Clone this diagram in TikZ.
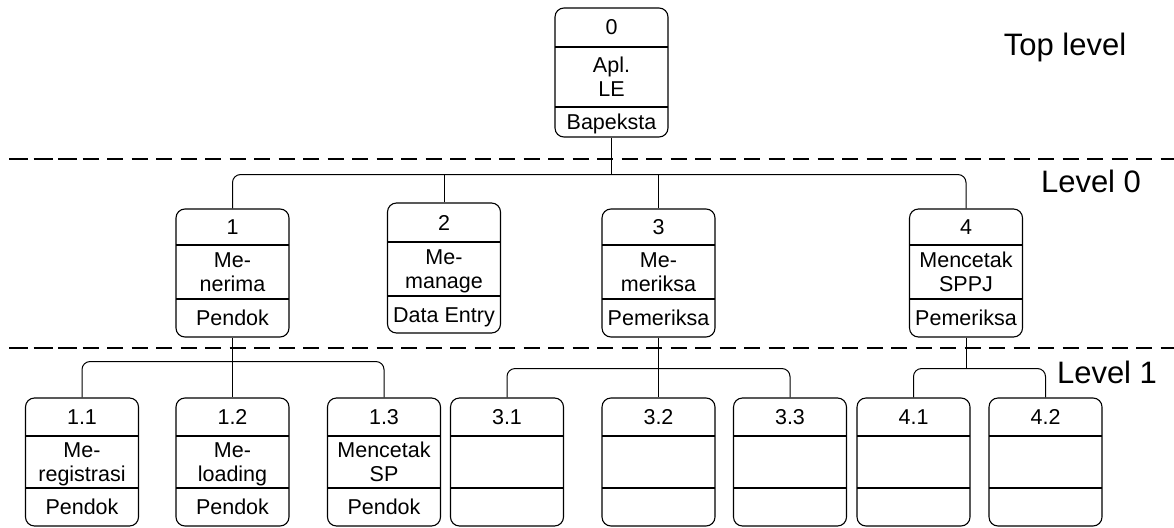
\documentclass[tikz,border=0pt]{standalone}
\usepackage{fontspec}
\setmainfont{Liberation Sans}
\tikzset{
  pbox/.style={draw, rounded corners=9pt, minimum width=113pt, inner sep=0pt, line width=1.1pt},
  pline/.style={line width=1.1pt},
  ptext/.style={font=\fontsize{21.5}{24}\selectfont, anchor=base, inner sep=0pt},
  conn/.style={line width=1pt, rounded corners=8pt},
  dline/.style={line width=2pt, dash pattern=on 16pt off 8.5pt},
  lvl/.style={font=\fontsize{31}{36}\selectfont, anchor=base, inner sep=0pt}
}
\def\getys#1/#2/#3/#4\relax{\def\ya{#1}\def\yb{#2}\def\yc{#3}\def\yd{#4}}
% #1 name, #2 cx, #3 ytop/line1/line2/ybot, #4 head, #5 mid line A, #6 mid line B, #7 foot
\newcommand{\procbox}[7]{%
  \getys#3\relax
  \node[pbox, minimum height={\yd-\ya}] (#1) at (#2,{(\ya+\yd)/2}) {};
  \draw[pline] ({#2-56.5},\yb) -- ({#2+56.5},\yb);
  \draw[pline] ({#2-56.5},\yc) -- ({#2+56.5},\yc);
  \node[ptext] (#1-h) at (#2,{(\ya+\yb)/2+7.5}) {#4};
  \node[ptext] (#1-ma) at (#2,{(\yb+\yc)/2-4.5}) {#5};
  \node[ptext] (#1-mb) at (#2,{(\yb+\yc)/2+19.5}) {#6};
  \node[ptext] (#1-f) at (#2,{(\yc+\yd)/2+7.5}) {#7};
}
\begin{document}
\begin{tikzpicture}[x=1pt,y=-1pt]
\useasboundingbox (0,0) rectangle (1174,527);
% dashed level separators
\draw[dline] (9,159) -- (1174,159);
\draw[dline] (12,159) -- (78,159);
\draw[dline] (9,348) -- (1174,348);
\draw[dline] (12,348) -- (78,348);
% level labels
\node[lvl] (ltop) at (1065,56) {Top level};
\node[lvl] (l0) at (1091,192) {Level 0};
\node[lvl] (l1) at (1107,383) {Level 1};
% top level
\procbox{b0}{611.5}{8/47/107/137}{0}{Apl.}{LE}{Bapeksta}
% level 0
\procbox{b1}{232.5}{209/245/299/337}{1}{Me-}{nerima}{Pendok}
\procbox{b2}{444}{203/242/296/333}{2}{Me-}{manage}{Data Entry}
\procbox{b3}{658.5}{209/245/299/337}{3}{Me-}{meriksa}{Pemeriksa}
\procbox{b4}{966}{209/245/299/337}{4}{Mencetak}{SPPJ}{Pemeriksa}
% level 1
\procbox{n11}{82}{398/436/488/526}{1.1}{Me-}{registrasi}{Pendok}
\procbox{n12}{232.5}{398/436/488/526}{1.2}{Me-}{loading}{Pendok}
\procbox{n13}{384}{398/436/488/526}{1.3}{Mencetak}{SP}{Pendok}
\procbox{n31}{507}{398/436/488/526}{3.1}{}{}{}
\procbox{n32}{658.5}{398/436/488/526}{3.2}{}{}{}
\procbox{n33}{790}{398/436/488/526}{3.3}{}{}{}
\procbox{n41}{913.5}{398/436/488/526}{4.1}{}{}{}
\procbox{n42}{1045.5}{398/436/488/526}{4.2}{}{}{}
% connectors: top -> level 0
\path (b0.south) ++(0,37) coordinate (bus0);
\draw[conn] (b0.south) -- (bus0);
\draw[conn] (b1.north) |- (bus0) -| (b4.north);
\draw[conn] (b2.north) -- (b2.north |- bus0);
\draw[conn] (b3.north) -- (b3.north |- bus0);
% level 0 -> level 1
\path (b1.south) ++(0,24) coordinate (bus1);
\draw[conn] (n11.north) |- (bus1) -| (n13.north);
\draw[conn] (b1.south) -- (n12.north);
\path (b3.south) ++(0,31) coordinate (bus3);
\draw[conn] (n31.north) |- (bus3) -| (n33.north);
\draw[conn] (b3.south) -- (n32.north);
\path (b4.south) ++(0,31) coordinate (bus4);
\draw[conn] (b4.south) -- (bus4);
\draw[conn] (n41.north) |- (bus4) -| (n42.north);
\end{tikzpicture}
\end{document}
